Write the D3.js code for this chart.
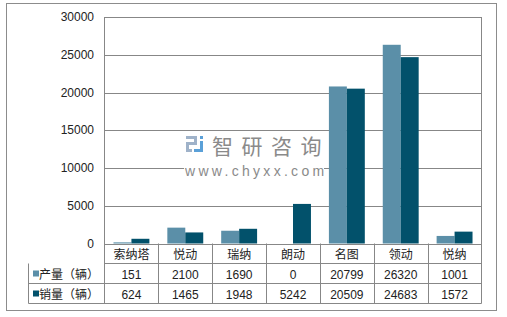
<!DOCTYPE html>
<html>
<head>
<meta charset="utf-8">
<script src="https://cdn.jsdelivr.net/npm/d3@7/dist/d3.min.js"></script>
<style>
  body { margin: 0; background: #fff; }
  svg text { font-family: Arial, "Liberation Sans", "Noto Sans CJK SC", sans-serif; }
</style>
</head>
<body>
<script>
'use strict';

const categories = ['索纳塔', '悦动', '瑞纳', '朗动', '名图', '领动', '悦纳'];
const seriesNames = ['产量（辆）', '销量（辆）'];
const production = [151, 2100, 1690, 0, 20799, 26320, 1001];
const sales = [624, 1465, 1948, 5242, 20509, 24683, 1572];
const yTicks = [0, 5000, 10000, 15000, 20000, 25000, 30000];
const colors = ['#5b8fa8', '#02516b'];

(function() {

const width = 507, height = 317;
const plotLeft = 104.5, plotRight = 481.5, plotTop = 17, base = 243.5;
const rowH = 20;
const tableLeft = 28.5;
const gridColor = '#878787';

let svg = d3.select('body').append('svg')
    .attr('width', width)
    .attr('height', height);

// outer frame
svg.append('rect')
    .attr('x', 6.5).attr('y', 3.5)
    .attr('width', 490).attr('height', 307)
    .attr('fill', '#fff')
    .attr('stroke', '#8c8c8c');

let x = d3.scaleBand()
    .domain(categories)
    .range([plotLeft, plotRight]);

let x1 = d3.scaleBand()
    .domain([0, 1])
    .range([x.bandwidth() / 6, x.bandwidth() * 5 / 6]);

let y = d3.scaleLinear()
    .domain([0, 30000])
    .range([base, plotTop]);

// gridlines
svg.append('g')
    .selectAll('line')
    .data(yTicks).enter()
    .append('line')
    .attr('x1', plotLeft).attr('x2', plotRight)
    .attr('y1', d => Math.round(y(d)) + 0.5)
    .attr('y2', d => Math.round(y(d)) + 0.5)
    .attr('stroke', gridColor);

// watermark
let wm = svg.append('g');
wm.append('rect').attr('x', 184).attr('y', 164).attr('width', 140).attr('height', 13).attr('fill', '#fff');
let logo = wm.append('g').attr('transform', 'translate(186,136)');
logo.append('rect').attr('x', 0).attr('y', 0).attr('width', 11).attr('height', 3).attr('fill', '#9fb2c9');
logo.append('rect').attr('x', 8).attr('y', 0).attr('width', 3).attr('height', 9).attr('fill', '#9fb2c9');
logo.append('rect').attr('x', 0).attr('y', 6).attr('width', 11).attr('height', 3).attr('fill', '#9fb2c9');
logo.append('rect').attr('x', 0).attr('y', 6).attr('width', 3).attr('height', 10).attr('fill', '#9fb2c9');
logo.append('rect').attr('x', 0).attr('y', 13).attr('width', 6).attr('height', 3).attr('fill', '#9fb2c9');
logo.append('rect').attr('x', 14).attr('y', 0).attr('width', 3).attr('height', 3).attr('fill', '#5aa0d8');
logo.append('rect').attr('x', 14).attr('y', 5).attr('width', 3).attr('height', 11).attr('fill', '#5aa0d8');
logo.append('rect').attr('x', 8).attr('y', 13).attr('width', 9).attr('height', 3).attr('fill', '#5aa0d8');
wm.append('text')
    .attr('x', 212).attr('y', 154)
    .style('font-family', '"Noto Sans CJK SC", sans-serif')
    .style('font-size', '21px')
    .style('letter-spacing', '8.5px')
    .attr('fill', '#8a8a8a')
    .text('智研咨询');
wm.append('text')
    .attr('x', 185).attr('y', 176)
    .style('font-size', '14px')
    .style('letter-spacing', '3.3px')
    .attr('fill', '#8a8a8a')
    .text('www.chyxx.com');

// bars
const series = [production, sales];
series.forEach(function (vals, s) {
    svg.append('g')
        .selectAll('rect')
        .data(vals).enter()
        .append('rect')
        .attr('x', (d, i) => x(categories[i]) + x1(s))
        .attr('width', x1.bandwidth())
        .attr('y', d => y(d))
        .attr('height', d => base - y(d))
        .attr('fill', colors[s]);
});

// y tick labels
svg.append('g')
    .selectAll('text')
    .data(yTicks).enter()
    .append('text')
    .attr('x', 94)
    .attr('y', d => y(d) + 4)
    .attr('text-anchor', 'end')
    .style('font-size', '12px')
    .attr('fill', '#222')
    .text(d => d);

// plot frame sides
svg.append('line').attr('x1', plotLeft).attr('x2', plotLeft).attr('y1', plotTop).attr('y2', base + rowH * 3).attr('stroke', gridColor);
svg.append('line').attr('x1', plotRight).attr('x2', plotRight).attr('y1', plotTop).attr('y2', base + rowH * 3).attr('stroke', gridColor);

// table
let table = svg.append('g');
[1, 2, 3].forEach(function (r) {
    table.append('line')
        .attr('x1', r === 1 ? plotLeft : tableLeft).attr('x2', plotRight)
        .attr('y1', base + rowH * r).attr('y2', base + rowH * r)
        .attr('stroke', gridColor);
});
table.append('line')
    .attr('x1', tableLeft).attr('x2', tableLeft)
    .attr('y1', base + rowH).attr('y2', base + rowH * 3)
    .attr('stroke', gridColor);
table.selectAll('line.v')
    .data(categories.slice(1)).enter()
    .append('line')
    .attr('x1', d => Math.round(x(d)) + 0.5)
    .attr('x2', d => Math.round(x(d)) + 0.5)
    .attr('y1', base).attr('y2', base + rowH * 3)
    .attr('stroke', gridColor);

table.selectAll('text.cat')
    .data(categories).enter()
    .append('text')
    .attr('x', d => x(d) + x.bandwidth() / 2)
    .attr('y', base + 15)
    .attr('text-anchor', 'middle')
    .style('font-family', '"Noto Sans CJK SC", sans-serif')
    .style('font-size', '12px')
    .attr('fill', '#222')
    .text(d => d);

series.forEach(function (vals, s) {
    let rowY = base + rowH * (s + 1);
    table.append('rect')
        .attr('x', 33).attr('y', rowY + 7)
        .attr('width', 6).attr('height', 6)
        .attr('fill', colors[s]);
    table.append('text')
        .attr('x', 39).attr('y', rowY + 15)
        .style('font-family', '"Noto Sans CJK SC", sans-serif')
        .style('font-size', '12px')
        .attr('fill', '#222')
        .text(seriesNames[s]);
    table.append('g')
        .selectAll('text')
        .data(vals).enter()
        .append('text')
        .attr('x', (d, i) => x(categories[i]) + x.bandwidth() / 2)
        .attr('y', rowY + 15)
        .attr('text-anchor', 'middle')
        .style('font-size', '12px')
        .attr('fill', '#222')
        .text(d => d);
});

})();
</script>
</body>
</html>
